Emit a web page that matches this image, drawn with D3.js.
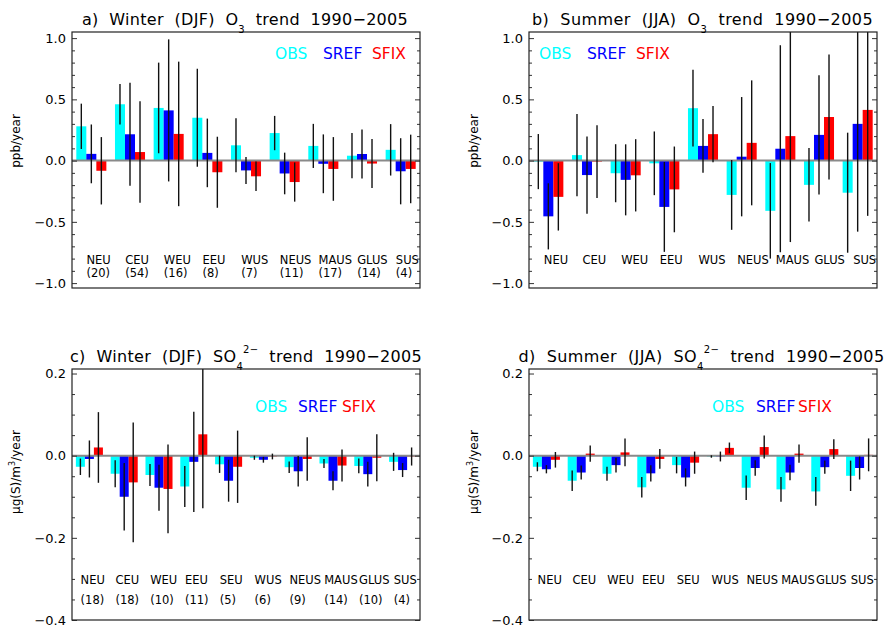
<!DOCTYPE html>
<html><head><meta charset="utf-8">
<script src="https://cdn.jsdelivr.net/npm/d3@7"></script>
<style>
body{margin:0;background:#fff}
svg{display:block}
text{font-family:"DejaVu Sans",sans-serif}
</style>
</head><body>
<svg id="chart" width="889" height="627"></svg>
<script>
// ---------------- data ----------------
const regionsO3 = ["NEU","CEU","WEU","EEU","WUS","NEUS","MAUS","GLUS","SUS"];
const countsO3W = ["(20)","(54)","(16)","(8)","(7)","(11)","(17)","(14)","(4)"];
const regionsSO4 = ["NEU","CEU","WEU","EEU","SEU","WUS","NEUS","MAUS","GLUS","SUS"];
const countsSO4W = ["(18)","(18)","(10)","(11)","(5)","(6)","(9)","(14)","(10)","(4)"];
const seriesNames = ["OBS","SREF","SFIX"];

// a) Winter O3
const obsA     = [0.28, 0.46, 0.43, 0.35, 0.125, 0.225, 0.12, 0.04, 0.088];
const obsErrA  = [0.185, 0.165, 0.37, 0.40, 0.22, 0.14, 0.18, 0.185, 0.21];
const srefA    = [0.055, 0.215, 0.41, 0.063, -0.08, -0.105, -0.026, 0.054, -0.087];
const srefErrA = [0.24, 0.42, 0.58, 0.28, 0.11, 0.17, 0.24, 0.2, 0.27];
const sfixA    = [-0.083, 0.07, 0.218, -0.095, -0.128, -0.175, -0.068, -0.024, -0.068];
const sfixErrA = [0.275, 0.415, 0.59, 0.29, 0.12, 0.16, 0.26, 0.2, 0.28];

// b) Summer O3
const obsB     = [-0.008, 0.045, -0.103, -0.022, 0.428, -0.28, -0.41, -0.198, -0.262];
const obsErrB  = [0.225, 0.335, 0.237, 0.26, 0.313, 0.285, 0.39, 0.3, 0.49];
const srefB    = [-0.455, -0.118, -0.157, -0.378, 0.12, 0.032, 0.097, 0.21, 0.3];
const srefErrB = [0.27, 0.315, 0.29, 0.367, 0.22, 0.487, 0.845, 0.487, 0.88];
const sfixB    = [-0.296, -0.008, -0.12, -0.235, 0.216, 0.145, 0.2, 0.356, 0.414];
const sfixErrB = [0.275, 0.297, 0.295, 0.35, 0.23, 0.51, 0.865, 0.51, 0.865];

// c) Winter SO4
const obsC     = [-0.027, -0.044, -0.047, -0.075, -0.021, -0.005, -0.028, -0.019, -0.025, -0.015];
const obsErrC  = [0.02, 0.033, 0.027, 0.05, 0.021, 0.005, 0.014, 0.011, 0.018, 0.022];
const srefC    = [-0.008, -0.1, -0.078, -0.015, -0.061, -0.01, -0.038, -0.061, -0.045, -0.035];
const srefErrC = [0.045, 0.082, 0.056, 0.122, 0.051, 0.007, 0.037, 0.023, 0.03, 0.017];
const sfixC    = [0.02, -0.065, -0.081, 0.052, -0.027, -0.002, -0.008, -0.024, -0.005, -0.002];
const sfixErrC = [0.086, 0.146, 0.108, 0.18, 0.088, 0.007, 0.053, 0.039, 0.057, 0.022];

// d) Summer SO4
const obsD     = [-0.027, -0.061, -0.044, -0.077, -0.023, -0.002, -0.078, -0.082, -0.087, -0.049];
const obsErrD  = [0.011, 0.025, 0.017, 0.025, 0.02, 0.003, 0.03, 0.03, 0.035, 0.037];
const srefD    = [-0.033, -0.041, -0.023, -0.043, -0.053, -0.002, -0.03, -0.041, -0.028, -0.03];
const srefErrD = [0.01, 0.017, 0.018, 0.02, 0.022, 0.012, 0.019, 0.019, 0.016, 0.028];
const sfixD    = [-0.01, 0.005, 0.008, -0.008, -0.017, 0.019, 0.021, 0.005, 0.016, 0.002];
const sfixErrD = [0.019, 0.02, 0.034, 0.024, 0.027, 0.013, 0.028, 0.022, 0.024, 0.04];

const ticksO3 = [-1.0, -0.5, 0.0, 0.5, 1.0];
const ticksSO4 = [-0.4, -0.2, 0.0, 0.2];

// ---------------- layout ----------------
const colors = ["#00ffff", "#0000ff", "#ff0000"];
const svg = d3.select("#chart");

const panels = [
  {id:"a", x0:72, x1:420, y0:32, y1:288, dom:[-1.04,1.05], regions:regionsO3, counts:countsO3W,
   data:[[obsA,obsErrA],[srefA,srefErrA],[sfixA,sfixErrA]], ticks:ticksO3, minorStep:0.1,
   title:["a)  Winter  (DJF)  O","3","  trend  1990−2005"], sup:null, tW:326, tC:245,
   ylab:"ppb", ylx:20, yly:141, legY:58.5, legX:[275,323,372], labOff:14.5, labY:264, cntY:277},
  {id:"b", x0:529, x1:877, y0:32, y1:288, dom:[-1.04,1.05], regions:regionsO3, counts:null,
   data:[[obsB,obsErrB],[srefB,srefErrB],[sfixB,sfixErrB]], ticks:ticksO3, minorStep:0.1,
   title:["b)  Summer  (JJA)  O","3","  trend  1990−2005"], sup:null, tW:341, tC:702.5,
   ylab:"ppb", ylx:478, yly:141, legY:58.5, legX:[539,587,636], labOff:14.8, labY:264, cntY:null},
  {id:"c", x0:72, x1:420, y0:369, y1:620, dom:[-0.4,0.211], regions:regionsSO4, counts:countsSO4W,
   data:[[obsC,obsErrC],[srefC,srefErrC],[sfixC,sfixErrC]], ticks:ticksSO4, minorStep:0.05,
   title:["c)  Winter  (DJF)  SO","4","  trend  1990−2005"], sup:"2−", tW:352, tC:246,
   ylab:"ug", ylx:20, yly:472, legY:411.5, legX:[255,298,342], labOff:8.6, labY:584, cntY:604},
  {id:"d", x0:529, x1:877, y0:369, y1:620, dom:[-0.4,0.211], regions:regionsSO4, counts:null,
   data:[[obsD,obsErrD],[srefD,srefErrD],[sfixD,sfixErrD]], ticks:ticksSO4, minorStep:0.05,
   title:["d)  Summer  (JJA)  SO","4","  trend  1990−2005"], sup:"2−", tW:366, tC:701.5,
   ylab:"ug", ylx:478, yly:472, legY:411.5, legX:[712,756,798], labOff:8.6, labY:584, cntY:null}
];

const fmt = d3.format(".1f");

panels.forEach(p => {
  const x = d3.scaleBand().domain(p.regions).range([p.x0, p.x1]).padding(0);
  const y = d3.scaleLinear().domain(p.dom).range([p.y1, p.y0]);
  const bw = x.bandwidth() * 0.259;
  const cx = r => x(r) + x.bandwidth() / 2;

  const clipId = "clip-" + p.id;
  svg.append("clipPath").attr("id", clipId).append("rect")
    .attr("x", p.x0).attr("y", p.y0).attr("width", p.x1 - p.x0).attr("height", p.y1 - p.y0);
  const g = svg.append("g").attr("clip-path", `url(#${clipId})`);

  // bars
  p.data.forEach((s, k) => {
    const vals = s[0];
    g.selectAll(null).data(p.regions).enter().append("rect")
      .attr("x", r => cx(r) + (k - 1.5) * bw)
      .attr("width", bw)
      .attr("y", (r, i) => y(Math.max(0, vals[i])))
      .attr("height", (r, i) => Math.abs(y(vals[i]) - y(0)))
      .attr("fill", colors[k]);
  });

  // zero line
  g.append("line").attr("x1", p.x0).attr("x2", p.x1)
    .attr("y1", y(0)).attr("y2", y(0))
    .attr("stroke", "#8a8a8a").attr("stroke-width", 2);

  // error bars
  p.data.forEach((s, k) => {
    const vals = s[0], errs = s[1];
    g.selectAll(null).data(p.regions).enter().append("line")
      .attr("x1", r => cx(r) + (k - 1) * bw)
      .attr("x2", r => cx(r) + (k - 1) * bw)
      .attr("y1", (r, i) => y(vals[i] + errs[i]))
      .attr("y2", (r, i) => y(vals[i] - errs[i]))
      .attr("stroke", "#111").attr("stroke-width", 1.4);
  });

  // axes
  const minor = d3.range(Math.ceil(p.dom[0] / p.minorStep - 1e-9), Math.floor(p.dom[1] / p.minorStep + 1e-9) + 1)
    .map(v => +(v * p.minorStep).toFixed(3))
    .filter(v => !p.ticks.some(t => Math.abs(t - v) < 1e-6));

  const styleAxis = sel => {
    sel.select(".domain").remove();
    sel.selectAll(".tick line").attr("stroke", "#333").attr("stroke-width", 1);
    sel.selectAll("text").attr("fill", "#000").style("font-size", "13px")
      .style("font-family", "DejaVu Sans, sans-serif");
  };

  svg.append("g").attr("transform", `translate(${p.x0},0)`)
    .call(d3.axisLeft(y).tickValues(p.ticks).tickSize(-5).tickPadding(6).tickFormat(fmt))
    .call(styleAxis);
  svg.append("g").attr("transform", `translate(${p.x0},0)`)
    .call(d3.axisLeft(y).tickValues(minor).tickSize(-3).tickFormat(""))
    .call(styleAxis);
  svg.append("g").attr("transform", `translate(${p.x1},0)`)
    .call(d3.axisRight(y).tickValues(p.ticks).tickSize(-5).tickFormat(""))
    .call(styleAxis);
  svg.append("g").attr("transform", `translate(${p.x1},0)`)
    .call(d3.axisRight(y).tickValues(minor).tickSize(-3).tickFormat(""))
    .call(styleAxis);

  // frame
  svg.append("rect").attr("x", p.x0).attr("y", p.y0)
    .attr("width", p.x1 - p.x0).attr("height", p.y1 - p.y0)
    .attr("fill", "none").attr("stroke", "#222").attr("stroke-width", 1.2);

  // title (fitted to the reference width, centred over the panel)
  const t = svg.append("text").attr("x", 0).attr("y", p.y0 - 7)
    .attr("text-anchor", "start").style("font-size", "16px")
    .style("white-space", "pre");
  t.append("tspan").text(p.title[0]);
  t.append("tspan").text(p.title[1]).style("font-size", "10px").attr("dy", 8);
  if (p.sup) {
    t.append("tspan").text(p.sup).style("font-size", "10px").attr("dy", -17);
    t.append("tspan").text(p.title[2]).attr("dy", 9);
  } else {
    t.append("tspan").text(p.title[2]).attr("dy", -8);
  }
  const nChars = (p.title.join("") + (p.sup || "")).length;
  let w0 = t.node().getBBox().width;
  let ls = (p.tW - w0) / nChars;
  t.style("letter-spacing", ls + "px");
  let bb = t.node().getBBox();
  ls += (p.tW - bb.width) / nChars;
  t.style("letter-spacing", ls + "px");
  bb = t.node().getBBox();
  t.attr("x", p.tC - bb.width / 2 - bb.x);

  // legend
  seriesNames.forEach((n, k) => {
    svg.append("text").attr("x", p.legX[k]).attr("y", p.legY)
      .style("font-size", "15.5px").attr("fill", colors[k]).text(n);
  });

  // region labels
  svg.selectAll(null).data(p.regions).enter().append("text")
    .attr("x", r => x(r) + p.labOff).attr("y", p.labY)
    .style("font-size", "11.5px").text(r => r);
  if (p.counts) {
    svg.selectAll(null).data(p.counts).enter().append("text")
      .attr("x", (c, i) => x(p.regions[i]) + p.labOff).attr("y", p.cntY)
      .style("font-size", "11.5px").text(c => c);
  }

  // y title
  const yt = svg.append("text").attr("transform", `translate(${p.ylx},${p.yly}) rotate(-90)`)
    .attr("text-anchor", "middle").style("font-size", "12px");
  if (p.ylab === "ppb") {
    yt.text("ppb/year");
  } else {
    yt.append("tspan").text("μg(S)/m");
    yt.append("tspan").text("3").style("font-size", "8px").attr("dy", -5);
    yt.append("tspan").text("/year").attr("dy", 5);
  }
});
</script>
</body></html>
